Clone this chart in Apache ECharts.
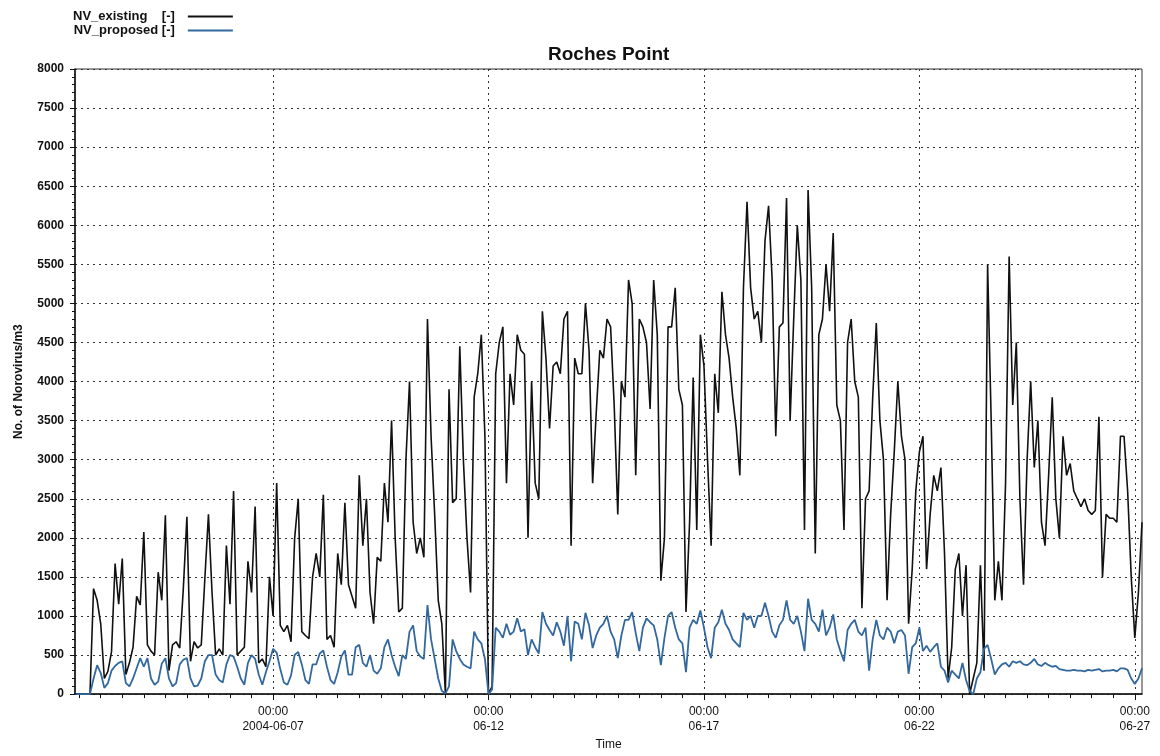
<!DOCTYPE html>
<html><head><meta charset="utf-8">
<script src="https://cdn.jsdelivr.net/npm/echarts@6/dist/echarts.min.js"></script>
<style>html,body{margin:0;padding:0;background:#fff}#c{width:1160px;height:756px}</style>
</head><body><div id="c"></div>
<script>
// time: hours since 2004-06-02 00:00, one sample every 2 hours starting 10:00
const startHour = 10;
const stepHours = 2;
const axisMinHour = 9.667;
const axisMaxHour = 604;

const existing = [
  0,0,0,0,0,1350,1200,
  900,200,290,540,1670,1150,1735,250,400,600,1250,1140,
  2075,630,550,500,1560,1200,2290,300,630,670,590,1350,
  2270,420,670,590,630,1480,2300,1300,500,580,500,1900,
  1150,2600,500,550,600,1700,1300,2400,400,450,350,1500,
  1000,2700,880,800,880,670,1990,2500,800,750,710,1500,
  1800,1500,2550,700,750,600,1800,1400,2450,1400,1250,1100,
  2800,1900,2500,1300,900,1750,1700,2700,2200,3500,2000,1050,
  1100,3000,4000,2200,1800,2000,1750,4800,3300,2300,1200,900,
  0,3900,2450,2500,4450,3000,2000,1300,3800,4100,4600,3300,
  0,100,4100,4500,4700,2700,4100,3700,4600,4400,4350,2000,
  4000,2700,2500,4900,4300,3400,4200,4250,4100,4800,4900,1900,
  4300,4100,4100,5000,4400,2700,3600,4400,4300,4800,4700,3700,
  2300,4000,3800,5300,5000,2800,4800,4700,4500,3650,5300,4600,
  1450,2000,4700,4700,5200,3900,3700,1050,2200,4050,2100,4600,
  4200,3000,1900,4100,3600,5150,4600,4300,3800,3400,2800,5200,
  6300,5200,4800,4900,4500,5800,6250,5300,3300,4700,4750,6350,
  3500,4800,6000,5300,2100,6450,5200,1800,4600,4800,5500,4900,
  5900,3700,3500,2100,4500,4800,4000,3800,1100,2500,2600,3800,
  4750,3500,3000,1200,2300,3100,4000,3300,3000,900,1600,2600,
  3100,3300,1600,2300,2800,2600,2900,1800,200,600,1600,1800,
  1000,1650,0,200,400,1650,300,5500,3500,1200,1700,1200,
  2700,5600,3700,4500,2500,1400,3000,4000,2900,3500,2200,1900,
  2800,3800,2500,2000,3300,2800,2950,2600,2500,2400,2500,2350,
  2300,2350,3550,1500,2300,2250,2250,2200,3300,3300,2600,1500,
  720,1300,2200
];

const proposed = [
  0,0,0,0,0,200,370,
  270,80,140,300,360,400,420,140,100,200,330,460,
  350,460,200,120,160,390,460,200,100,140,380,440,
  460,200,100,110,200,420,500,500,250,180,150,380,
  500,480,350,200,120,400,500,450,250,120,280,420,
  580,530,320,150,120,240,500,540,380,180,130,380,
  380,520,560,350,180,130,280,480,560,250,250,600,
  630,400,350,500,300,260,330,600,700,500,350,230,
  500,450,800,880,550,480,450,1140,700,450,200,40,
  10,100,700,550,450,380,350,330,800,700,650,450,
  0,60,850,800,720,900,760,800,970,800,830,500,
  700,600,520,1050,900,820,750,920,800,620,1000,420,
  930,900,700,1040,880,590,750,850,900,1000,800,700,
  460,750,950,950,1050,780,550,850,970,920,880,700,
  370,720,1000,1050,850,700,650,280,850,950,900,1070,
  850,600,460,850,920,1080,900,820,700,650,600,1040,
  950,1000,850,1000,1000,1170,1000,800,720,880,950,1200,
  950,900,1000,800,550,1220,950,900,800,1080,750,850,
  1020,700,550,420,820,900,950,800,750,850,300,700,
  950,750,700,850,800,650,800,820,750,260,600,650,
  850,550,620,540,600,650,350,300,150,300,250,200,
  400,180,40,0,200,280,580,630,450,250,330,380,
  400,350,420,400,420,380,370,400,450,380,360,400,
  370,350,360,320,310,300,300,310,300,300,290,310,
  300,310,320,290,300,300,310,290,330,330,310,200,
  130,200,330
];

const xTickHours = [120, 240, 360, 480, 600];
const xTickLabels = ['00:00\n2004-06-07', '00:00\n06-12', '00:00\n06-17', '00:00\n06-22', '00:00\n06-27'];
const seriesNames = ['NV_existing [-]', 'NV_proposed [-]'];
const legendLabels = ['NV_existing    [-]', 'NV_proposed [-]'];

const halfDayTicks = [];
for (let h = 12; h <= axisMaxHour; h += 12) halfDayTicks.push(h);

const toPairs = arr => arr.map((v, i) => [startHour + i * stepHours, v]);

const narrow = "'Liberation Sans Narrow', 'Liberation Sans', Arial, sans-serif";
const sans = "'Liberation Sans', Arial, sans-serif";

const chart = echarts.init(document.getElementById('c'), null, {renderer: 'canvas'});
chart.setOption({
  animation: false,
  backgroundColor: '#fff',
  title: {
    text: 'Roches Point', left: 548, top: 45, padding: 0,
    textStyle: {fontFamily: sans, fontWeight: 'bold', fontSize: 19, color: '#111'}
  },
  legend: {
    orient: 'vertical', left: 73, top: 10, itemGap: 1, align: 'right',
    itemWidth: 45, itemHeight: 2, icon: 'rect', padding: 0,
    data: seriesNames,
    formatter: name => legendLabels[seriesNames.indexOf(name)],
    textStyle: {
      fontFamily: sans, fontWeight: 'bold', fontSize: 13, color: '#111',
      padding: [0, 8, 0, 0]
    }
  },
  grid: {left: 75, right: 18, top: 69, bottom: 60, show: true, borderColor: '#333', borderWidth: 1, backgroundColor: 'transparent'},
  xAxis: [{
    type: 'value', min: axisMinHour, max: axisMaxHour, position: 'bottom',
    name: 'Time', nameLocation: 'middle', nameGap: 42,
    nameTextStyle: {fontFamily: narrow, fontSize: 12, color: '#111'},
    axisLine: {show: true, lineStyle: {color: '#111', width: 1.5}},
    axisTick: {show: true, length: 6, customValues: xTickHours, lineStyle: {color: '#111'}},
    axisLabel: {
      customValues: xTickHours, margin: 10, lineHeight: 15,
      fontFamily: narrow, fontSize: 12, color: '#111',
      formatter: v => xTickLabels[xTickHours.indexOf(Math.round(v))] || ''
    },
    splitLine: {show: true, lineStyle: {type: [2, 4], color: '#333', width: 1}}
  }, {
    type: 'value', min: axisMinHour, max: axisMaxHour, position: 'bottom',
    axisLine: {show: false},
    axisTick: {show: true, length: 4, customValues: halfDayTicks, lineStyle: {color: '#111'}},
    axisLabel: {show: false},
    splitLine: {show: false}
  }],
  yAxis: {
    type: 'value', min: 0, max: 8000, interval: 500,
    name: 'No. of Norovirus/m3', nameLocation: 'middle', nameGap: 50,
    nameTextStyle: {fontFamily: sans, fontWeight: 'bold', fontSize: 12, color: '#111'},
    axisLine: {show: true, lineStyle: {color: '#111', width: 1.5}},
    axisTick: {show: true, length: 5, lineStyle: {color: '#111'}},
    minorTick: {show: true, splitNumber: 5, length: 3, lineStyle: {color: '#111'}},
    axisLabel: {margin: 11, fontFamily: sans, fontWeight: 'bold', fontSize: 12, color: '#111',
      formatter: v => String(v)},
    splitLine: {show: true, lineStyle: {type: [2, 4], color: '#333', width: 1}}
  },
  series: [{
    name: seriesNames[0], type: 'line', xAxisIndex: 0, data: toPairs(existing),
    symbol: 'none', lineStyle: {color: '#111', width: 1.6}, itemStyle: {color: '#111'}
  }, {
    name: seriesNames[1], type: 'line', xAxisIndex: 0, data: toPairs(proposed),
    symbol: 'none', lineStyle: {color: '#33689e', width: 1.8}, itemStyle: {color: '#33689e'}
  }]
});
</script></body></html>
